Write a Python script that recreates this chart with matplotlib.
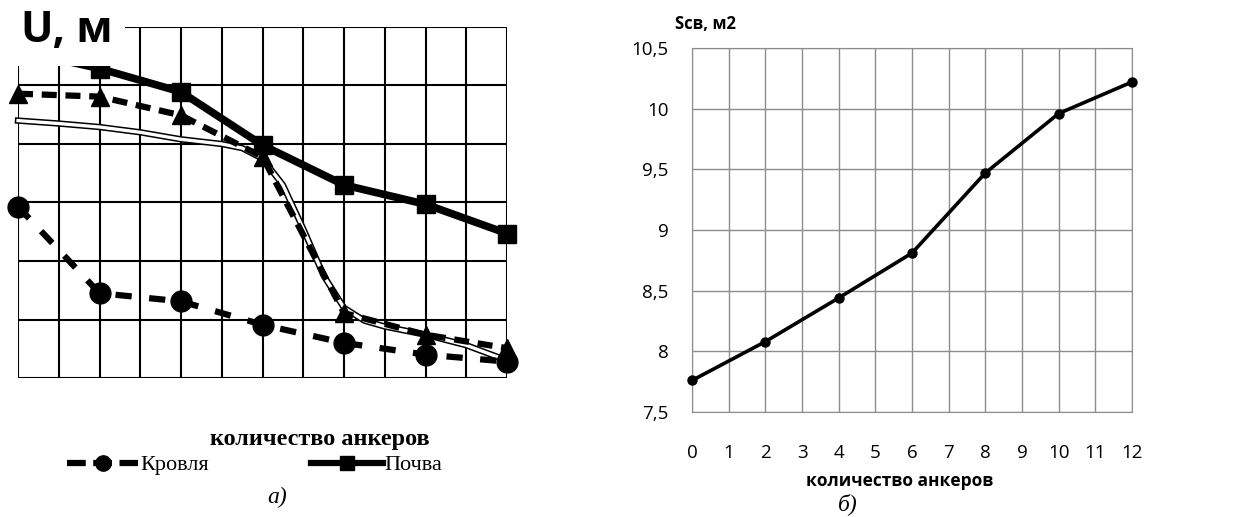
import numpy as np
import matplotlib.pyplot as plt
from matplotlib.lines import Line2D

# данные, график а)
x_a = [0, 2, 4, 6, 8, 10, 12]
krovlya = [2.93, 1.45, 1.31, 0.91, 0.60, 0.40, 0.28]
pochva = [5.6, 5.29, 4.89, 3.98, 3.30, 2.97, 2.47]
tri = [4.86, 4.81, 4.49, 3.78, 1.11, 0.74, 0.51]
x_dbl = [0, 1, 2, 3, 4, 5, 5.5, 6, 6.5, 7, 7.5, 8, 8.5, 9, 10, 11, 12]
dbl = [4.40, 4.35, 4.29, 4.20, 4.08, 4.00, 3.93, 3.75, 3.30, 2.55, 1.75,
       1.20, 0.98, 0.88, 0.74, 0.56, 0.30]

# данные, график б)
x_b = [0, 2, 4, 6, 8, 10, 12]
s_sv = [7.76, 8.08, 8.44, 8.81, 9.47, 9.96, 10.22]
x_ticks_b = list(range(0, 13))
y_ticks_b = [7.5, 8, 8.5, 9, 9.5, 10, 10.5]
y_labels_b = ['7,5', '8', '8,5', '9', '9,5', '10', '10,5']


def main():
    W, H = 1255, 517
    fig = plt.figure(figsize=(W / 100, H / 100), dpi=100)

    # ---- а) ----
    ax1 = fig.add_axes([18 / W, (H - 378) / H, (507 - 18) / W, (378 - 27) / H])
    ax1.set_xlim(0, 12)
    ax1.set_ylim(0, 6)
    for v in range(13):
        ax1.axvline(v, color='black', lw=1.5, zorder=1)
    for v in range(7):
        ax1.axhline(v, color='black', lw=1.5, zorder=1)
    for s in ax1.spines.values():
        s.set_visible(False)
    ax1.set_xticks([])
    ax1.set_yticks([])

    ax1.plot(x_dbl, dbl, color='black', lw=4.6, zorder=3, clip_on=False)
    ax1.plot(x_dbl, dbl, color='white', lw=2.4, zorder=3.1, clip_on=False)
    ax1.plot(x_a, tri, color='black', lw=4.5, ls=(0, (2.4, 1.4)), marker='^',
             ms=13, zorder=4, clip_on=False)
    ax1.plot(x_a, krovlya, color='black', lw=4.5, ls=(0, (2.6, 2.8)), marker='o',
             ms=15, zorder=5, clip_on=False)
    ax1.plot(x_a, pochva, color='black', lw=5.5, marker='s',
             ms=13, zorder=6, clip_on=False)

    # белая подложка под подписью оси
    fig.patches.append(plt.Rectangle((8 / W, 1 - 66 / H), 117 / W, 66 / H,
                                     transform=fig.transFigure,
                                     facecolor='white', edgecolor='none',
                                     zorder=9))
    fig.text(67 / W, 1 - 31 / H, 'U, м', fontsize=31, fontweight='bold',
             family='Open Sans', ha='center', va='center', zorder=10)

    fig.text(320 / W, 1 - 439 / H, 'количество анкеров', fontsize=17.5,
             fontweight='bold', family='Liberation Serif',
             ha='center', va='center')
    h1 = Line2D([], [], color='black', lw=4.5, ls=(0, (3, 1.2)), marker='o', ms=11)
    h2 = Line2D([], [], color='black', lw=4.5, marker='s', ms=10)
    fig.legend([h1, h2], ['Кровля', 'Почва'], ncol=2, frameon=False,
               loc='center', bbox_to_anchor=(255 / W, 1 - 465 / H),
               prop={'family': 'Liberation Serif', 'size': 16},
               handlelength=3.2, handletextpad=0.1, columnspacing=4.6)
    fig.text(277 / W, 1 - 497 / H, 'а)', fontsize=17, style='italic',
             family='Liberation Serif', ha='center', va='center')

    # ---- б) ----
    ax2 = fig.add_axes([692 / W, (H - 412) / H, (1132 - 692) / W, (412 - 48) / H])
    ax2.plot(x_b, s_sv, color='black', lw=2.6, marker='o', ms=6.5,
             zorder=5, clip_on=False)
    ax2.set_xlim(0, 12)
    ax2.set_ylim(7.5, 10.5)
    ax2.set_xticks(x_ticks_b)
    ax2.set_yticks(y_ticks_b)
    ax2.set_yticklabels(y_labels_b)
    ax2.grid(True, color='#8c8c8c', lw=1)
    for s in ax2.spines.values():
        s.set_color('#8c8c8c')
    ax2.tick_params(length=0, labelsize=13.5)
    ax2.tick_params(axis='x', pad=23)
    ax2.tick_params(axis='y', pad=17)
    for lbl in ax2.get_xticklabels() + ax2.get_yticklabels():
        lbl.set_family('Open Sans')
    fig.text(900 / W, 1 - 481 / H, 'количество анкеров', fontsize=12.5,
             fontweight='bold', family='Open Sans', ha='center', va='center')
    fig.text(705 / W, 1 - 24 / H, 'Sсв, м2', fontsize=12, fontweight='bold',
             family='Open Sans', ha='center', va='center')
    fig.text(848 / W, 1 - 504 / H, 'б)', fontsize=17, style='italic',
             family='Liberation Serif', ha='center', va='center')

    fig.savefig('out.png', dpi=100)


if __name__ == '__main__':
    main()
